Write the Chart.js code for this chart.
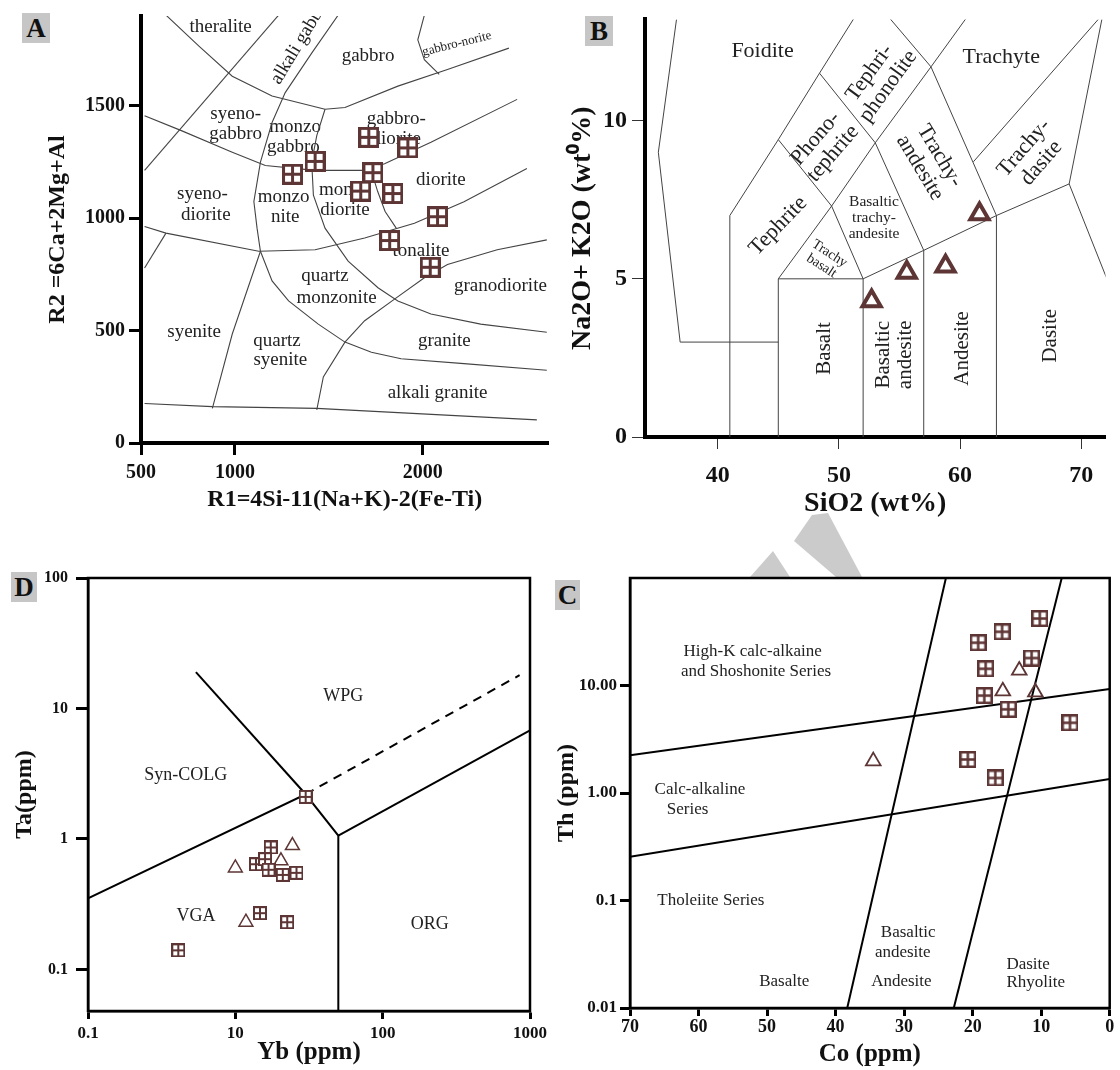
<!DOCTYPE html>
<html>
<head>
<meta charset="utf-8">
<script src="https://cdn.jsdelivr.net/npm/chart.js@4.4.1/dist/chart.umd.min.js"></script>
<style>
  body { margin: 0; background: #fff; }
  #page { position: relative; width: 1120px; height: 1070px; overflow: hidden; }
  #page canvas, #page svg { position: absolute; }
  .tag { position: absolute; background: #c6c6c6; font: bold 27px "Liberation Serif", serif; width: 28px; height: 30px; line-height: 31px; text-align: center; color: #111; }
</style>
</head>
<body>
<div id="page">
  <!-- faint watermark showing between the two rows -->
  <svg width="1120" height="1070" style="left:0;top:0">
    <polygon points="750,577 773,551 790,577" fill="#cbcbcb"/>
    <polygon points="794,541 812,515 828,513 862,577 836,577" fill="#cbcbcb"/>
  </svg>
  <canvas id="chartA" width="560" height="530" style="left:0;top:0"></canvas>
  <canvas id="chartB" width="560" height="530" style="left:560px;top:0"></canvas>
  <canvas id="chartD" width="560" height="530" style="left:0;top:540px"></canvas>
  <canvas id="chartC" width="575" height="530" style="left:545px;top:540px"></canvas>
  <div class="tag" style="left:22px;top:13px">A</div>
  <div class="tag" style="left:585px;top:16px">B</div>
  <div class="tag" style="left:11px;top:572px;width:26px">D</div>
  <div class="tag" style="left:555px;top:580px;width:25px">C</div>
</div>
<script>
// ==================== DATA ====================
// A : R1-R2 diagram
const aR1 = [1713, 1921, 1427, 1307, 1735, 1670, 1841, 2079, 1824, 2040];
const aR2 = [1360, 1313, 1253, 1196, 1203, 1121, 1110, 1007, 901, 782];
const aTicksX = [500, 1000, 2000];
const aTicksY = [0, 500, 1000, 1500];

// B : TAS
const bSiO2 = [61.6, 58.8, 55.6, 52.7];
const bAlkali = [7.05, 5.4, 5.2, 4.3];
const bTicksX = [40, 50, 60, 70];
const bTicksY = [0, 5, 10];

// D : Ta vs Yb
const dYbSquares = [30, 17.4, 13.8, 15.9, 16.8, 21, 26, 14.7, 22.5, 4.1];
const dTaSquares = [2.1, 0.86, 0.64, 0.70, 0.58, 0.53, 0.55, 0.27, 0.23, 0.14];
const dYbTriangles = [10, 24.4, 20.4, 11.8];
const dTaTriangles = [0.6, 0.89, 0.68, 0.23];
const dTicksX = [1, 10, 100, 1000];
const dTickLabelsX = ['0.1', '10', '100', '1000'];
const dTicksY = [0.1, 1, 10, 100];
const dTickLabelsY = ['0.1', '1', '10', '100'];

// C : Th vs Co
const cCoSquares = [10.2, 15.7, 19.2, 11.4, 18.1, 18.3, 14.8, 5.8, 20.7, 16.7];
const cThSquares = [42, 31.6, 25, 18, 14.3, 8.06, 6.0, 4.5, 2.05, 1.38];
const cCoTriangles = [13.2, 15.6, 10.85, 34.5];
const cThTriangles = [13.8, 8.85, 8.66, 1.98];
const cTicksX = [70, 60, 50, 40, 30, 20, 10, 0];
const cTicksY = [0.01, 0.1, 1, 10];
const cTickLabelsY = ['0.01', '0.1', '1.00', '10.00'];

// ==================== FIELD BOUNDARIES ====================
const aBoundaries = [
  [[633,1904],[810,1765],[986,1632],[1198,1544],[1480,1485],[1586,1493],[1868,1588],[2132,1662],[2459,1757]],
  [[1233,1904],[519,1213]],
  [[1550,1904],[1409,1735],[1268,1559],[1198,1426],[1136,1250],[1101,1074],[1118,956],[1136,853]],
  [[519,1456],[715,1390],[986,1294],[1162,1235],[1427,1213],[1691,1213],[1797,1243],[2044,1338],[2503,1529]],
  [[519,963],[633,934],[1127,853],[1427,860],[1691,912],[1956,978],[2220,1074],[2555,1221]],
  [[633,934],[519,779]],
  [[1136,853],[986,485],[880,154]],
  [[1136,853],[1198,721],[1286,632],[1444,529],[1586,449],[1727,404],[1885,375],[2220,353],[2661,324]],
  [[1480,1485],[1436,1368],[1409,1250],[1418,1103],[1480,956],[1603,809],[1762,691],[1868,632],[2044,574],[2309,529],[2661,493]],
  [[1725,1215],[1760,1120],[1800,1030],[1860,955]],
  [[1436,147],[1471,294],[1586,449],[1691,544],[1850,640],[2009,735],[2132,794],[2397,860],[2661,904]],
  [[519,176],[880,162],[1436,154],[2608,103]],
  [[2009,1904],[1974,1794],[2009,1706],[2088,1640]]
];

const bBoundaries = [
  [[36.6,13.2],[35.1,9.0],[36.9,3.0],[45,3]],
  [[41,0],[41,7],[45,9.4],[48.4,11.5],[52.5,14]],
  [[45,0],[45,5],[49.4,7.3],[53,9.3],[57.6,11.7],[61,13.5]],
  [[52,0],[52,5],[49.4,7.3],[45,9.4]],
  [[45,5],[52,5],[57,5.9],[63,7],[69,8]],
  [[57,0],[57,5.9],[53,9.3],[48.4,11.5]],
  [[63,0],[63,7],[57.6,11.7],[52.5,14]],
  [[61.1,8.7],[71.4,13.2]],
  [[77.3,0],[69,8],[71.7,13.2]]
];

const dBoundaries = [
  [[1,0.35],[30,2.2],[50,1.06],[50,0.04]],
  [[5.4,19],[30,2.2]],
  [[50,1.06],[1000,6.8]]
];
const dDashed = [[30,2.2],[850,18]];

const cBoundaries = [
  [[70,2.24],[0,9.3]],
  [[70,0.255],[0,1.35]],
  [[23.9,100],[38.3,0.01]],
  [[7.0,100],[22.75,0.01]]
];

// ==================== FIELD NAMES ====================
const aNames = [
  ['theralite', 924, 1853], ['alkali gabbro', 1215, 1603, 19, -59, 'left'], ['gabbro', 1709, 1720],
  ['gabbro-norite', 2182, 1776, 13, -14], ['syeno-', 1004, 1463], ['gabbro', 1004, 1375],
  ['monzo', 1321, 1404], ['gabbro', 1312, 1316], ['gabbro-', 1859, 1441], ['diorite', 1859, 1353],
  ['diorite', 2097, 1169], ['syeno-', 827, 1110], ['diorite', 845, 1015], ['monzo', 1259, 1096],
  ['nite', 1268, 1007], ['monzo', 1586, 1125], ['diorite', 1586, 1037], ['tonalite', 1991, 853],
  ['quartz', 1480, 743], ['monzonite', 1541, 647], ['granodiorite', 2414, 699], ['syenite', 783, 493],
  ['quartz', 1224, 456], ['syenite', 1242, 368], ['granite', 2115, 456], ['alkali granite', 2079, 221]
];
const bNames = [
  ['Foidite', 43.7, 12.2, 22], ['Trachyte', 63.4, 12.0, 22],
  ['Tephri-\nphonolite', 53.3, 11.3, 22, -54], ['Phono-\ntephrite', 48.8, 9.2, 22, -49],
  ['Trachy-\nandesite', 57.5, 8.7, 22, 59], ['Trachy-\ndasite', 66.0, 8.9, 22, -49],
  ['Tephrite', 45.0, 6.67, 22, -46], ['Basaltic\ntrachy-\nandesite', 52.9, 6.93, 15.5],
  ['Trachy\nbasalt', 48.9, 5.6, 14, 33], ['Basalt', 48.8, 2.8, 21, -90],
  ['Basaltic\nandesite', 54.6, 2.6, 21, -90], ['Andesite', 60.2, 2.8, 21, -90], ['Dasite', 67.5, 3.2, 21, -90]
];
const dNames = [['WPG', 54, 12.4], ['Syn-COLG', 4.6, 3.07], ['VGA', 5.4, 0.256], ['ORG', 209, 0.22]];
const cNames = [
  ['High-K calc-alkaine', 52.1, 20.5], ['and Shoshonite Series', 51.6, 13.5], ['Calc-alkaline', 59.8, 1.07],
  ['Series', 61.6, 0.70], ['Tholeiite Series', 58.2, 0.1], ['Basaltic', 29.4, 0.0505], ['andesite', 30.2, 0.0328],
  ['Andesite', 30.4, 0.0178], ['Basalte', 47.5, 0.0178], ['Dasite', 11.9, 0.0255], ['Rhyolite', 10.8, 0.0172]
];

// ==================== HELPERS ====================
const SERIF = '"Liberation Serif", "Times New Roman", serif';
const MARK = '#5e3535';

const pts = (xs, ys) => xs.map((x, i) => ({ x, y: ys[i] }));
const toXY = line => line.map(p => ({ x: p[0], y: p[1] }));

// square with a cross inside
function boxCross(size, lw) {
  const c = document.createElement('canvas');
  c.width = c.height = size;
  const g = c.getContext('2d');
  g.fillStyle = '#fff';
  g.fillRect(0, 0, size, size);
  g.strokeStyle = MARK;
  g.lineWidth = lw;
  g.strokeRect(lw / 2, lw / 2, size - lw, size - lw);
  g.beginPath();
  g.moveTo(size / 2, 0); g.lineTo(size / 2, size);
  g.moveTo(0, size / 2); g.lineTo(size, size / 2);
  g.stroke();
  return c;
}

function lineSets(lines, color, width, dash) {
  return lines.map(l => ({
    data: toXY(l), showLine: true, pointRadius: 0, borderColor: color,
    borderWidth: width, borderDash: dash || [], order: 2
  }));
}

function squares(xs, ys, img) {
  return { data: pts(xs, ys), pointStyle: img, pointRadius: img.width / 2, order: 0 };
}

function triangles(xs, ys, r, bw) {
  return {
    data: pts(xs, ys), pointStyle: 'triangle', pointRadius: r, pointBorderWidth: bw,
    pointBorderColor: MARK, pointBackgroundColor: 'rgba(255,255,255,0)', order: 0
  };
}

function fieldLabels(items, size) {
  return {
    id: 'fieldLabels',
    beforeDatasetsDraw(chart) {
      const { ctx, chartArea: ca, scales: { x, y } } = chart;
      ctx.save();
      ctx.beginPath();
      ctx.rect(ca.left, ca.top, ca.right - ca.left, ca.bottom - ca.top);
      ctx.clip();
      ctx.fillStyle = '#222';
      ctx.textBaseline = 'middle';
      items.forEach(([t, vx, vy, s, r, a]) => {
        const fs = s || size;
        const lines = t.split('\n');
        ctx.save();
        ctx.translate(x.getPixelForValue(vx), y.getPixelForValue(vy));
        if (r) ctx.rotate(r * Math.PI / 180);
        ctx.font = fs + 'px ' + SERIF;
        ctx.textAlign = a || 'center';
        lines.forEach((ln, k) => ctx.fillText(ln, 0, (k - (lines.length - 1) / 2) * fs * 1.05));
        ctx.restore();
      });
      ctx.restore();
    }
  };
}

// white plot background, so the watermark only shows in the gaps
const whiteArea = {
  id: 'whiteArea',
  beforeDraw(chart) {
    const { ctx, chartArea: ca } = chart;
    ctx.save();
    ctx.fillStyle = '#fff';
    ctx.fillRect(ca.left, ca.top, ca.right - ca.left, ca.bottom - ca.top);
    ctx.restore();
  }
};

const framePlugin = {
  id: 'frame',
  afterDatasetsDraw(chart) {
    const { ctx, chartArea: ca } = chart;
    ctx.save();
    ctx.strokeStyle = '#000';
    ctx.lineWidth = 2.5;
    ctx.strokeRect(ca.left, ca.top, ca.right - ca.left, ca.bottom - ca.top);
    ctx.restore();
  }
};

function axis(o) {
  return {
    type: o.type || 'linear',
    min: o.min, max: o.max, reverse: !!o.reverse,
    afterBuildTicks: ax => { ax.ticks = o.ticks.map(v => ({ value: v })); },
    afterFit: ax => { if (o.isY) ax.width = o.size; else ax.height = o.size; },
    ticks: {
      autoSkip: false, maxRotation: 0, padding: o.pad, color: '#111',
      font: { family: SERIF, size: o.fs, weight: 'bold' },
      callback: (v, i) => (o.labels ? o.labels[i] : String(o.ticks[i]))
    },
    grid: { drawOnChartArea: false, drawTicks: true, tickLength: o.tl, tickWidth: o.tw, tickColor: o.tc || '#000' },
    border: { display: true, width: o.bw, color: '#000' },
    title: {
      display: true, text: o.title, color: '#111',
      font: { family: SERIF, size: o.tfs, weight: 'bold' }, padding: o.tpad
    }
  };
}

function baseOptions(padding, x, y) {
  return {
    responsive: false, animation: false,
    layout: { padding },
    plugins: { legend: { display: false }, tooltip: { enabled: false } },
    scales: { x, y }
  };
}

// ==================== A ====================
new Chart(document.getElementById('chartA'), {
  type: 'scatter',
  data: { datasets: [squares(aR1, aR2, boxCross(21, 3)), ...lineSets(aBoundaries, '#444', 1.1)] },
  options: baseOptions({ left: 0, top: 12, right: 4, bottom: 0 },
    axis({ min: 500, max: 2670, ticks: aTicksX, size: 87, tl: 12, pad: 6, fs: 20, tw: 3, bw: 4,
      title: 'R1=4Si-11(Na+K)-2(Fe-Ti)', tfs: 24, tpad: { top: 0, bottom: 16 } }),
    axis({ isY: true, min: 0, max: 1900, ticks: aTicksY, size: 141, tl: 12, pad: 4, fs: 20, tw: 3, bw: 4,
      title: 'R2 =6Ca+2Mg+Al', tfs: 24, tpad: { top: 43, bottom: 0 } })),
  plugins: [whiteArea, fieldLabels(aNames, 19)]
});

// ==================== B ====================
new Chart(document.getElementById('chartB'), {
  type: 'scatter',
  data: { datasets: [triangles(bSiO2, bAlkali, 10.5, 4), ...lineSets(bBoundaries, '#444', 1)] },
  options: baseOptions({ left: 0, top: 15, right: 8, bottom: 0 },
    axis({ min: 34, max: 72, ticks: bTicksX, size: 93, tl: 12, pad: 12, fs: 24, tw: 1, tc: '#333', bw: 4,
      title: 'SiO2 (wt%)', tfs: 28, tpad: { top: 0, bottom: 9 } }),
    axis({ isY: true, min: 0, max: 13.2, ticks: bTicksY, size: 85, tl: 13, pad: 5, fs: 24, tw: 1, tc: '#333', bw: 4,
      title: 'Na2O+ K2O (wt\u2070%)', tfs: 28, tpad: { top: 6, bottom: 0 } })),
  plugins: [whiteArea, fieldLabels(bNames, 22)]
});

// ==================== D ====================
new Chart(document.getElementById('chartD'), {
  type: 'scatter',
  data: {
    datasets: [
      squares(dYbSquares, dTaSquares, boxCross(14, 2)),
      triangles(dYbTriangles, dTaTriangles, 8, 1.5),
      ...lineSets(dBoundaries, '#000', 2),
      ...lineSets([dDashed], '#000', 2, [9, 7])
    ]
  },
  options: baseOptions({ left: 0, top: 38, right: 30, bottom: 0 },
    axis({ type: 'logarithmic', min: 1, max: 1000, ticks: dTicksX, labels: dTickLabelsX, size: 59, tl: 8, pad: 4,
      fs: 17, tw: 3, bw: 2.5, title: 'Yb (ppm)', tfs: 25, tpad: { top: 0, bottom: 2 } }),
    axis({ isY: true, type: 'logarithmic', min: 0.048, max: 100, ticks: dTicksY, labels: dTickLabelsY, size: 88,
      tl: 12, pad: 8, fs: 16, tw: 3, bw: 2.5, title: 'Ta(ppm)', tfs: 24, tpad: { top: 10, bottom: 0 } })),
  plugins: [whiteArea, fieldLabels(dNames, 18), framePlugin]
});

// ==================== C ====================
new Chart(document.getElementById('chartC'), {
  type: 'scatter',
  data: {
    datasets: [
      squares(cCoSquares, cThSquares, boxCross(17, 2.5)),
      triangles(cCoTriangles, cThTriangles, 8.5, 1.8),
      ...lineSets(cBoundaries, '#000', 2)
    ]
  },
  options: baseOptions({ left: 0, top: 38, right: 8, bottom: 0 },
    axis({ min: 0, max: 70, reverse: true, ticks: cTicksX, size: 62, tl: 8, pad: 1, fs: 18, tw: 3, bw: 2.5,
      title: 'Co (ppm)', tfs: 25, tpad: { top: 0, bottom: 0 } }),
    axis({ isY: true, type: 'logarithmic', min: 0.01, max: 100, ticks: cTicksY, labels: cTickLabelsY, size: 85,
      tl: 10, pad: 3, fs: 17, tw: 3, bw: 2.5, title: 'Th (ppm)', tfs: 24, tpad: { top: 7, bottom: 0 } })),
  plugins: [whiteArea, fieldLabels(cNames, 17), framePlugin]
});
</script>
</body>
</html>
